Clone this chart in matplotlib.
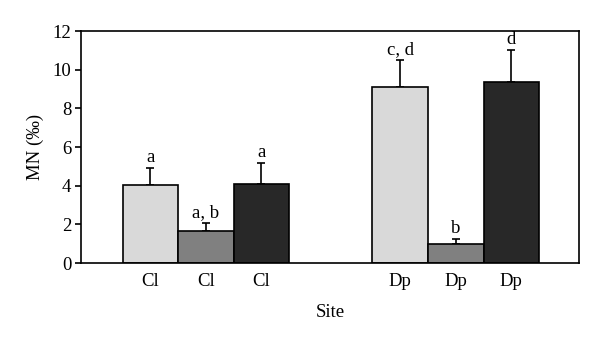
import matplotlib
matplotlib.use("Agg")
import matplotlib.pyplot as plt

labels = ["Cl", "Cl", "Cl", "Dp", "Dp", "Dp"]
positions = [0, 1, 2, 4.5, 5.5, 6.5]
values = [4.03, 1.67, 4.10, 9.12, 0.97, 9.38]
errors = [0.87, 0.38, 1.06, 1.36, 0.29, 1.64]
letters = ["a", "a, b", "a", "c, d", "b", "d"]
colors = ["#d9d9d9", "#808080", "#282828", "#d9d9d9", "#808080", "#282828"]

plt.rcParams['font.family'] = ['Liberation Serif', 'DejaVu Serif']
fs = 13.5

fig = plt.figure(figsize=(6.0, 3.45), dpi=100)
ax = fig.add_axes([81/600, 1-263/345, 498/600, 232/345])

ax.bar(positions, values, width=1.0, color=colors, edgecolor="black", linewidth=1.2, zorder=2)
ax.errorbar(positions, values, yerr=[[0]*len(values), errors], fmt="none",
            ecolor="black", elinewidth=1.2, capsize=3, capthick=1.2, zorder=1)
for x, v, e, t in zip(positions, values, errors, letters):
    ax.text(x, v + e + 0.1, t, ha="center", va="bottom", fontsize=fs)

ax.set_xlim(-1.25, 7.72)
ax.set_ylim(0, 12)
ax.set_yticks([0, 2, 4, 6, 8, 10, 12])
ax.set_xticks(positions)
ax.set_xticklabels(labels)
ax.tick_params(axis="x", length=0, labelsize=fs, pad=7)
ax.tick_params(axis="y", length=4, width=1.2, labelsize=fs, direction="out", pad=3)
for s in ax.spines.values():
    s.set_linewidth(1.2)
ax.set_ylabel("MN (‰)", fontsize=fs, labelpad=6)
ax.set_xlabel("Site", fontsize=fs, labelpad=10)

fig.savefig("out.png", dpi=100)
